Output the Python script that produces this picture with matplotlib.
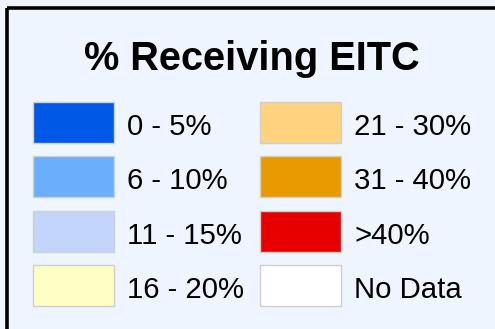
import matplotlib
matplotlib.use("Agg")
import matplotlib.pyplot as plt
from matplotlib.patches import Rectangle

plt.rcParams["font.family"] = ["Liberation Sans", "DejaVu Sans"]

title = "% Receiving EITC"
left_labels = ["0 - 5%", "6 - 10%", "11 - 15%", "16 - 20%"]
left_colors = ["#0058e6", "#6aaefc", "#c3d5fd", "#ffffc5"]
right_labels = ["21 - 30%", "31 - 40%", ">40%", "No Data"]
right_colors = ["#ffd27e", "#e89a00", "#e60000", "#ffffff"]

W, H = 495, 329
fig = plt.figure(figsize=(W / 100, H / 100), dpi=100)
fig.patch.set_facecolor("#eef5ff")
ax = fig.add_axes([0, 0, 1, 1])
ax.set_xlim(0, W)
ax.set_ylim(H, 0)
ax.axis("off")

# outer frame (runs past the right and bottom edges)
ax.add_patch(Rectangle((6.5, 7.5), W + 20, H + 20, facecolor="none",
                       edgecolor="black", linewidth=2.6))

ax.text(251.5, 70.5, title, fontsize=28.6, fontweight="bold",
        ha="center", va="baseline", color="black")

row_top0, row_step, sw_h = 102, 54.3, 41
columns = [(33, 127, left_labels, left_colors),
           (259.5, 354, right_labels, right_colors)]
for sw_x, tx, labels, colors in columns:
    for i, (lab, col) in enumerate(zip(labels, colors)):
        y = row_top0 + i * row_step
        ax.add_patch(Rectangle((sw_x, y), 81, sw_h, facecolor=col,
                               edgecolor="#cfcfcf", linewidth=1.0))
        ax.text(tx, y + 33, lab, fontsize=21.2, ha="left",
                va="baseline", color="black")

fig.savefig("out.png", dpi=100, facecolor=fig.get_facecolor())
